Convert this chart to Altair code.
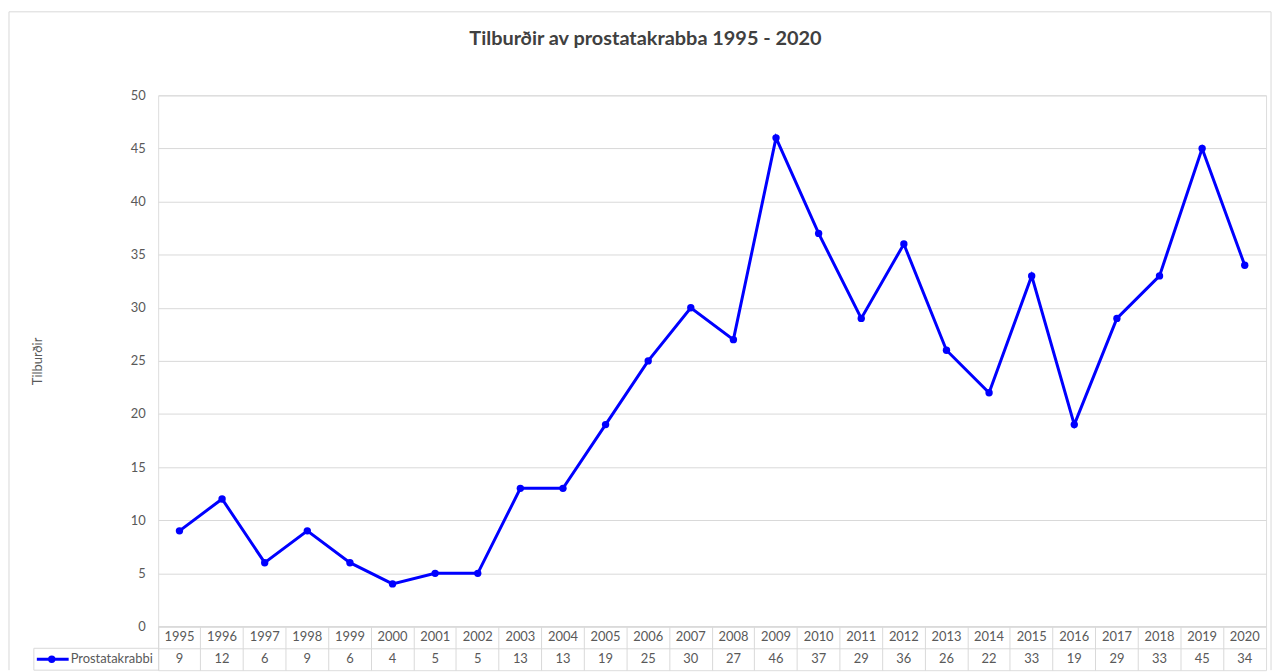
import altair as alt
import pandas as pd

# ---- data ----
years = [str(y) for y in range(1995, 2021)]
values = [9, 12, 6, 9, 6, 4, 5, 5, 13, 13, 19, 25, 30, 27, 46, 37, 29, 36, 26, 22, 33, 19, 29, 33, 45, 34]
series_name = "Prostatakrabbi"
title_text = "Tilburðir av prostatakrabba 1995 - 2020"
y_title = "Tilburðir"
y_ticks = list(range(0, 51, 5))

# ---- style ----
W, H = 1114, 534
ROW = 22
FONT = "Lato"
FS = 13
GRID = "#d9d9d9"
TXT = "#595959"
BLUE = "#0000ff"

df = pd.DataFrame({"year": years, "value": values})
one = pd.DataFrame({"t": [title_text]})

base = alt.Chart(df).encode(
    x=alt.X("year:O", scale=alt.Scale(type="point", domain=years, padding=0.5), axis=None),
    y=alt.Y(
        "value:Q",
        scale=alt.Scale(domain=[0, 50], nice=False),
        axis=alt.Axis(
            values=y_ticks, title=y_title, grid=True, gridColor=GRID, domain=False, ticks=False,
            labelPadding=13, labelFontSize=FS, labelColor=TXT, labelFont=FONT,
            titleFont=FONT, titleFontSize=FS, titleFontWeight="normal", titleColor=TXT,
            titleX=-121, titleY=H / 2, titleAngle=270, titleAlign="center", titleBaseline="middle",
        ),
    ),
)
line = base.mark_line(color=BLUE, strokeWidth=3)
pts = base.mark_circle(color=BLUE, size=55, opacity=1)

title = alt.Chart(one).mark_text(
    font=FONT, fontSize=20, fontWeight="bold", color="#404040", align="center", baseline="middle"
).encode(text="t:N", x=alt.value(490), y=alt.value(-57))

b_left = alt.Chart(one).mark_rule(color=GRID, strokeWidth=1).encode(
    x=alt.value(-150), y=alt.value(-84), y2=alt.value(H + 2 * ROW))
b_top = alt.Chart(one).mark_rule(color=GRID, strokeWidth=1).encode(
    x=alt.value(-150), x2=alt.value(1119), y=alt.value(-84))
b_right = alt.Chart(one).mark_rule(color=GRID, strokeWidth=1).encode(
    x=alt.value(1119), y=alt.value(-84), y2=alt.value(H + 2 * ROW))

top = alt.layer(b_left, b_top, b_right, title, line, pts).properties(width=W, height=H)

# ---- data table ----
rows = ["yr", "val"]
tdf = pd.DataFrame({
    "year": years * 2,
    "row": ["yr"] * len(years) + ["val"] * len(years),
    "txt": years + [str(v) for v in values],
})
xb = alt.X("year:O", scale=alt.Scale(type="band", domain=years, paddingInner=0, paddingOuter=0),
           axis=alt.Axis(orient="top", grid=True, gridColor=GRID, bandPosition=0, labels=False,
                         ticks=False, domain=False, title=None))
yb = alt.Y("row:N", scale=alt.Scale(type="band", domain=rows, paddingInner=0, paddingOuter=0),
           axis=alt.Axis(grid=True, gridColor=GRID, bandPosition=0, labels=False, ticks=False,
                         domain=False, title=None))
table_txt = alt.Chart(tdf).mark_text(font=FONT, fontSize=FS, color=TXT, baseline="middle").encode(
    x=xb, y=yb, text="txt:N")

lab = pd.DataFrame({"t": [series_name]})
c_top = alt.Chart(lab).mark_rule(color=GRID).encode(x=alt.value(-125), x2=alt.value(0), y=alt.value(ROW))
c_bot = alt.Chart(lab).mark_rule(color=GRID).encode(x=alt.value(-125), x2=alt.value(0), y=alt.value(2 * ROW))
c_left = alt.Chart(lab).mark_rule(color=GRID).encode(x=alt.value(-125), y=alt.value(ROW), y2=alt.value(2 * ROW))
sym_line = alt.Chart(lab).mark_rule(color=BLUE, strokeWidth=3).encode(
    x=alt.value(-122), x2=alt.value(-90), y=alt.value(ROW * 1.5))
sym_pt = alt.Chart(lab).mark_circle(color=BLUE, size=55, opacity=1).encode(
    x=alt.value(-107), y=alt.value(ROW * 1.5))
lab_txt = alt.Chart(lab).mark_text(font=FONT, fontSize=FS, color=TXT, align="left", baseline="middle").encode(
    text="t:N", x=alt.value(-88), y=alt.value(ROW * 1.5))

bottom = alt.layer(table_txt, c_top, c_bot, c_left, sym_line, sym_pt, lab_txt).properties(width=W, height=2 * ROW)

chart = alt.vconcat(top, bottom, spacing=0, bounds="flush").properties(
    padding={"left": 0, "top": 1, "right": 2, "bottom": 0}
).configure_view(stroke=GRID).configure(font=FONT)

chart.save("out.html", embed_options={"renderer": "svg", "actions": False})
